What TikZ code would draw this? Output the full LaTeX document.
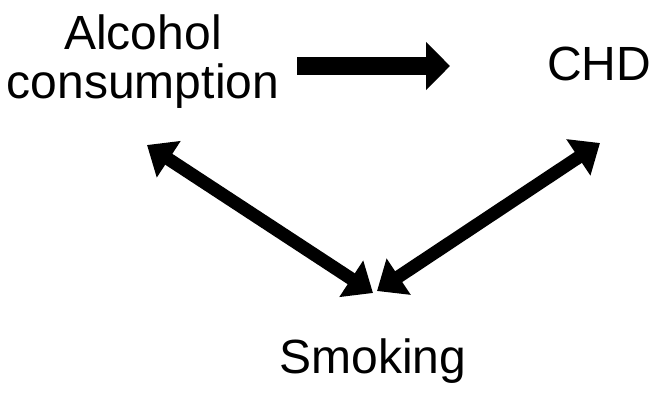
\documentclass[tikz,border=0pt]{standalone}
\usepackage{fontspec}
\setmainfont{Liberation Sans}
\usetikzlibrary{arrows.meta}
\begin{document}
\begin{tikzpicture}[x=1pt,y=-1pt,
  lbl/.style={font=\fontsize{48}{49}\selectfont, inner sep=0pt, align=center, anchor=base},
  bigarrow/.style={line width=18pt, -{Triangle[length=24pt,width=47pt]}},
  dblarrow/.style={line width=13pt, {Triangle[length=26pt,width=42pt]}-{Triangle[length=26pt,width=42pt]}}]
\useasboundingbox (0,0) rectangle (653,392);
\node[lbl] (alc) at (143,98) {Alcohol\\consumption};
\node[lbl] (chd) at (599,80) {CHD};
\node[lbl] (smk) at (373,373) {Smoking};
\coordinate (alcR) at (297,66);
\coordinate (chdL) at (450,66);
\coordinate (alcB) at (147,145);
\coordinate (smkL) at (373,293);
\coordinate (smkR) at (377,291);
\coordinate (chdB) at (600,143);
\draw[bigarrow] (alcR) -- (chdL);
\draw[dblarrow] (alcB) -- (smkL);
\draw[dblarrow] (smkR) -- (chdB);
\end{tikzpicture}
\end{document}
